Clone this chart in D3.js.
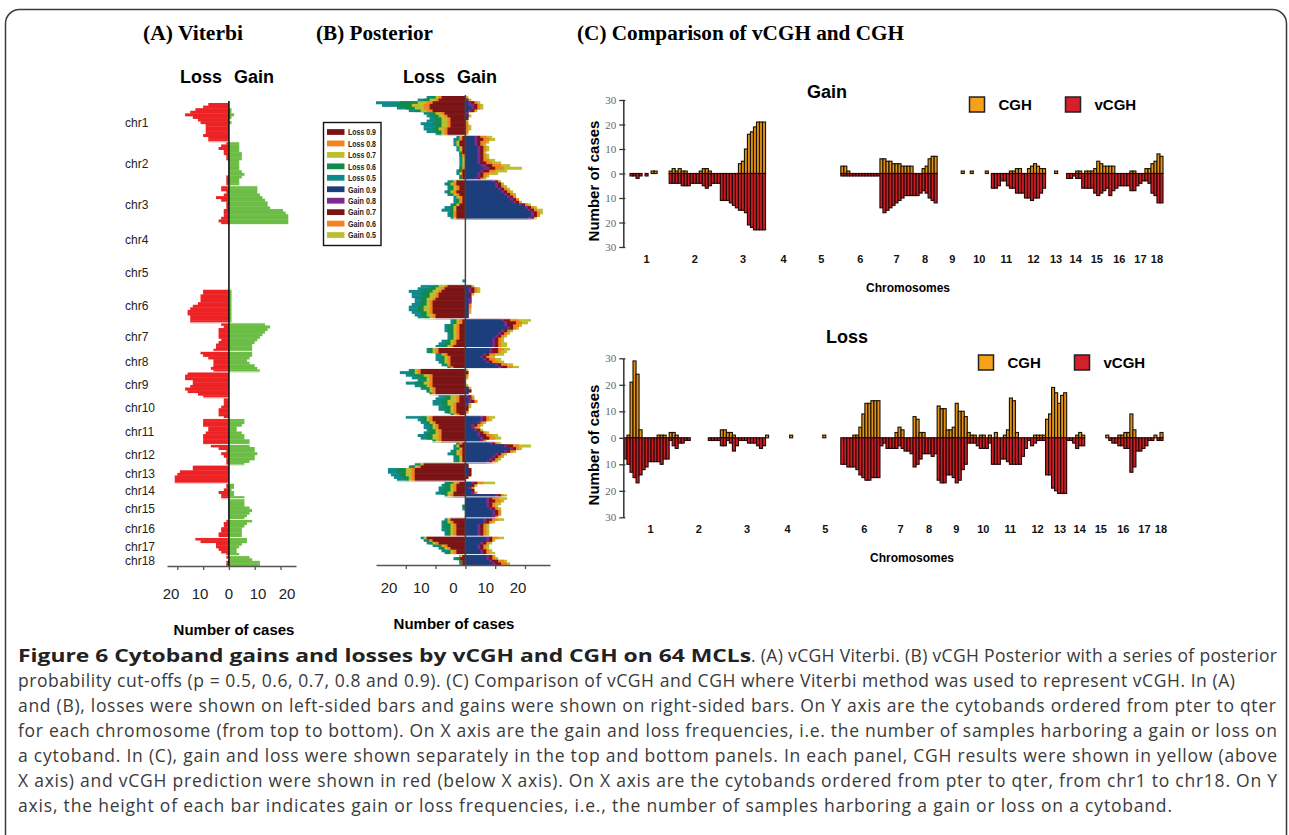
<!DOCTYPE html>
<html>
<head>
<meta charset="utf-8">
<script src="https://cdn.jsdelivr.net/npm/d3@7"></script>
<style>
  body { margin: 0; background: #fff; }
  svg { display: block; }
</style>
</head>
<body>
<svg></svg>
<script>
// cytobands per chromosome, ordered pter -> qter
const chromosomes = "chr1,chr2,chr3,chr4,chr5,chr6,chr7,chr8,chr9,chr10,chr11,chr12,chr13,chr14,chr15,chr16,chr17,chr18".split(",");
const bandCounts = [15, 17, 15, 12, 13, 13, 11, 8, 10, 8, 10, 8, 7, 6, 8, 7, 7, 4];

// vCGH Viterbi (panel A, and red bars of panel C), number of cases per cytoband
const viterbiGain = [
  "0 0 1 1 2 1 0 1 0 0 0 0 0 0 0",
  "4 4 4 4 5 5 5 4 4 4 4 5 6 5 4 4 4",
  "11 11 11 12 13 14 15 15 16 21 22 23 23 23 23",
  "0 0 0 0 0 0 0 0 0 0 0 0",
  "0 0 0 0 0 0 0 0 0 0 0 0 0",
  "1 1 1 1 1 1 1 1 1 1 1 1 1",
  "14 16 15 14 13 12 11 10 9 9 9",
  "9 9 8 7 8 10 11 12",
  "0 0 0 0 0 0 0 0 0 0",
  "0 0 0 0 0 0 0 0",
  "6 6 5 3 3 5 6 6 8 8",
  "8 10 10 11 10 10 8 6",
  "0 0 0 0 0 0 0",
  "2 2 1 2 2 6",
  "6 6 6 8 9 8 7 6",
  "9 7 6 5 5 5 5",
  "7 7 5 4 3 3 4",
  "8 9 12 12"
];
const viterbiLoss = [
  "8 10 13 15 17 14 12 11 9 9 9 9 10 8 8",
  "1 3 4 2 2 1 1 0 0 0 0 0 0 1 1 1 1",
  "3 3 1 2 5 3 1 1 1 2 2 2 3 4 3",
  "0 0 0 0 0 0 0 0 0 0 0 0",
  "0 0 0 0 0 0 0 0 0 0 0 0 0",
  "10 10 11 11 11 12 14 15 16 16 15 15 15",
  "3 2 4 4 4 4 3 4 5 5 6",
  "11 10 8 6 6 6 7 6",
  "16 17 17 14 14 15 17 16 12 10",
  "2 2 2 3 4 4 4 2",
  "10 10 10 8 8 9 10 10 10 10",
  "7 4 1 3 2 1 1 1",
  "14 14 19 20 21 21 21",
  "1 1 2 4 3 3",
  "0 0 0 0 0 0 0 0",
  "1 2 2 3 3 4 4",
  "13 11 5 5 4 3 1",
  "1 0 1 1"
];

// conventional CGH (yellow bars of panel C)
const cghGain = [
  "0 0 0 0 0 0 0 0 0 1 1 0 0 0 0",
  "1 2 1 2 1 1 0 0 0 0 1 2 2 1 0 0 0",
  "0 0 0 0 0 0 4 5 10 16 17 19 21 21 21",
  "0 0 0 0 0 0 0 0 0 0 0 0",
  "0 0 0 0 0 0 0 0 0 0 0 0 0",
  "3 3 1 0 0 0 0 0 0 0 0 0 0",
  "6 6 5 5 4 4 4 3 3 3 3",
  "0 0 0 2 3 6 7 7",
  "0 0 0 0 0 0 0 0 1 0",
  "0 1 0 0 0 0 1 0",
  "0 0 0 0 0 0 1 1 2 2",
  "0 0 2 3 4 3 2 2",
  "0 0 0 1 0 0 0",
  "0 0 0 1 1 0",
  "1 1 1 2 5 4 3 3",
  "3 3 0 0 0 0 0",
  "1 1 0 0 0 2 2",
  "4 5 8 7"
];
const cghLoss = [
  "0 1 21 29 24 3 0 0 0 0 0 1 1 1 0",
  "2 2 1 0 0 0 0 0 0 0 0 0 0 0 0 0 0",
  "3 3 2 2 1 0 0 0 0 0 0 0 0 0 0",
  "1 0 0 0 0 0 0 0 1 0 0 0",
  "0 0 0 0 0 0 0 1 0 0 0 0 0",
  "0 0 0 0 1 1 4 9 13 13 14 14 14",
  "0 0 0 0 0 2 4 3 0 0 0",
  "8 7 2 2 0 0 0 0",
  "12 11 11 3 3 4 13 10 10 8",
  "2 1 1 0 1 1 0 1",
  "0 2 0 0 1 3 15 14 2 0",
  "0 0 0 0 1 1 1 1",
  "7 9 19 17 13 16 17",
  "0 0 0 1 2 1",
  "0 0 0 0 0 0 0 1",
  "0 0 0 1 1 2 2",
  "9 3 0 0 0 0 0",
  "0 1 0 2"
];

// vCGH posterior (panel B): cases with posterior >= cut-off
const postLoss90 = [
  "8 9 11 12 12 11 7 6 5 5 5 5 6 6 6",
  "1 1 2 2 1 1 1 0 0 0 0 0 0 1 1 1 1",
  "3 3 2 2 3 2 1 1 1 2 3 3 3 3 3",
  "0 0 0 0 0 0 0 0 0 0 0 0",
  "0 0 0 0 0 0 0 0 0 0 0 0 0",
  "6 7 8 9 9 10 11 11 11 11 11 10 10",
  "1 1 2 2 2 2 2 2 3 3 4",
  "9 9 6 5 5 5 5 4",
  "15 15 11 11 11 11 11 10 10 10",
  "2 2 2 3 3 3 3 2",
  "11 11 10 9 9 8 8 8 8 8",
  "1 2 1 1 1 1 1 1",
  "14 15 17 17 17 17 17",
  "2 3 3 3 4 4",
  "0 0 0 0 0 0 0 0",
  "5 4 3 3 3 3 3",
  "13 11 9 6 5 3 3",
  "1 2 1 1"
];
const postLoss80 = [
  "9 10 13 14 14 13 8 7 6 6 6 6 7 7 7",
  "1 2 2 2 1 1 1 1 0 0 0 0 1 1 1 1 1",
  "3 4 3 3 4 3 2 2 2 2 3 3 4 4 3",
  "0 0 0 0 0 0 0 0 0 0 0 0",
  "0 0 0 0 0 0 0 0 0 0 0 0 0",
  "7 8 9 10 10 11 12 12 12 12 12 11 11",
  "2 2 3 3 3 3 3 3 4 4 5",
  "10 10 7 6 6 6 6 5",
  "16 16 12 12 12 12 12 11 11 11",
  "3 3 3 4 4 4 4 3",
  "12 12 11 10 10 9 9 9 9 9",
  "2 2 1 2 2 1 1 1",
  "14 16 18 18 18 18 18",
  "3 4 4 4 4 5",
  "0 0 0 0 0 0 0 0",
  "5 5 4 4 4 4 4",
  "13 12 10 7 6 4 4",
  "1 2 1 1"
];
const postLoss70 = [
  "10 12 16 18 17 15 10 9 8 8 8 8 9 8 8",
  "2 2 3 3 2 2 1 1 1 1 1 1 1 1 2 1 1",
  "4 5 4 4 5 4 3 2 2 3 4 4 4 4 4",
  "0 0 0 0 0 0 0 0 0 0 0 0",
  "0 0 0 0 0 0 0 0 0 0 0 0 0",
  "9 10 11 12 12 13 13 13 14 14 13 13 12",
  "3 3 4 4 4 4 4 4 5 5 6",
  "11 11 8 7 7 7 6 5",
  "17 17 14 13 13 14 13 12 12 11",
  "5 5 6 6 5 5 5 4",
  "13 13 12 11 11 10 10 11 11 10",
  "2 3 2 3 3 2 2 2",
  "15 17 20 20 20 19 19",
  "4 5 5 5 6 6",
  "0 0 0 0 0 0 0 0",
  "6 6 5 5 5 5 5",
  "14 12 11 8 7 5 5",
  "2 2 1 1"
];
const postLoss60 = [
  "11 14 22 23 20 17 12 11 10 10 11 10 11 10 9",
  "2 3 3 3 2 2 2 2 1 1 1 1 2 2 2 2 2",
  "5 6 5 5 6 5 3 3 3 4 5 5 5 5 4",
  "0 0 0 0 0 0 0 0 0 0 0 0",
  "0 0 0 0 0 0 0 0 0 0 0 0 0",
  "11 12 14 15 14 15 15 15 16 16 15 15 14",
  "4 4 5 6 6 5 5 5 6 7 8",
  "12 12 9 8 8 8 7 6",
  "18 19 17 15 14 17 15 13 13 12",
  "7 7 8 8 7 7 6 4",
  "15 14 13 12 12 12 12 13 13 11",
  "3 3 3 4 4 3 3 3",
  "16 18 23 23 22 21 20",
  "6 7 7 7 8 6",
  "0 0 0 1 0 0 0 0",
  "6 7 7 7 6 6 6",
  "14 13 12 9 8 6 6",
  "2 3 2 1"
];
const postLoss50 = [
  "13 16 30 28 23 19 14 13 12 13 15 14 14 13 10",
  "3 4 4 4 3 3 2 2 2 2 2 2 2 3 3 2 2",
  "6 7 6 6 7 6 4 4 4 5 7 8 6 6 5",
  "0 0 0 0 0 0 0 0 0 0 0 0",
  "0 0 0 0 0 0 0 0 0 0 0 1 0",
  "15 16 19 18 18 17 17 18 19 19 18 17 16",
  "5 5 7 7 7 6 6 6 8 9 10",
  "13 13 10 10 10 9 8 6",
  "19 22 20 18 16 20 17 15 13 12",
  "9 10 11 11 9 9 7 5",
  "20 16 15 14 14 13 14 16 15 11",
  "3 4 4 5 6 4 4 4",
  "17 19 26 26 25 24 23",
  "7 8 9 9 10 7",
  "0 0 0 1 1 0 0 0",
  "7 8 8 8 8 7 7",
  "15 14 13 11 9 8 7",
  "2 4 2 2"
];
const postGain90 = [
  "0 0 1 1 2 1 0 1 0 0 0 0 0 0 0",
  "3 3 3 3 4 4 4 4 4 4 4 5 6 5 4 4 3",
  "9 10 10 11 12 13 14 15 16 18 20 21 22 22 21",
  "0 0 0 0 0 0 0 0 0 0 0 0",
  "0 0 0 0 0 0 0 0 0 0 0 0 0",
  "1 1 1 1 1 1 1 1 1 1 1 1 1",
  "12 13 13 14 12 11 10 9 9 9 9",
  "8 8 6 5 6 7 10 11",
  "0 0 0 0 0 0 0 1 1 1",
  "0 1 1 0 0 0 0 0",
  "5 5 4 2 2 3 4 4 5 5",
  "8 13 15 13 10 9 8 7",
  "0 1 1 1 1 0 0",
  "2 2 1 2 2 10",
  "7 7 7 7 8 9 9 9",
  "6 6 4 4 4 4 4",
  "7 7 5 4 4 5 5",
  "7 7 8 9"
];
const postGain80 = [
  "0 1 2 3 3 2 1 1 0 0 0 0 0 0 0",
  "4 4 4 4 5 5 5 5 5 5 5 7 8 6 5 5 4",
  "10 11 11 12 13 14 15 16 17 19 21 22 23 23 22",
  "0 0 0 0 0 0 0 0 0 0 0 0",
  "0 0 0 0 0 0 0 0 0 0 0 0 0",
  "1 2 2 1 1 2 2 1 1 1 1 1 1",
  "13 14 14 15 13 12 11 10 10 10 10",
  "9 9 7 6 7 8 11 12",
  "0 0 0 0 0 0 0 1 1 1",
  "1 2 2 1 0 0 0 0",
  "6 6 5 3 3 4 5 5 6 6",
  "9 14 16 14 11 10 9 8",
  "0 1 1 1 1 0 0",
  "3 2 2 2 3 11",
  "8 8 8 8 9 10 10 10",
  "7 7 5 5 5 5 5",
  "8 8 6 5 5 6 6",
  "8 8 9 10"
];
const postGain70 = [
  "0 1 3 4 4 3 1 1 1 0 0 0 0 0 0",
  "5 6 5 5 6 6 6 6 6 6 7 9 10 8 6 6 5",
  "11 12 12 13 14 15 16 17 18 20 22 23 24 24 23",
  "0 0 0 0 0 0 0 0 0 0 0 0",
  "0 0 0 0 0 0 0 0 0 0 0 0 0",
  "2 3 3 2 2 2 2 1 1 1 1 1 1",
  "15 17 16 16 14 13 12 11 11 11 11",
  "11 11 8 7 8 9 12 14",
  "0 1 0 0 0 0 0 1 2 1",
  "2 2 3 1 1 1 0 0",
  "7 7 5 4 3 5 6 7 8 6",
  "10 16 17 15 12 11 10 9",
  "1 1 2 2 2 1 0",
  "4 3 2 3 3 12",
  "9 10 9 9 10 11 11 10",
  "9 8 6 6 6 6 6",
  "9 9 7 6 6 7 7",
  "9 9 11 12"
];
const postGain60 = [
  "0 1 4 5 5 3 1 1 1 0 1 1 1 1 0",
  "7 8 7 6 7 7 6 7 7 8 9 12 13 10 8 7 6",
  "11 12 13 14 15 16 17 18 18 21 23 24 25 25 23",
  "0 0 0 0 0 0 0 0 0 0 0 0",
  "0 0 0 0 0 0 0 0 0 0 0 0 0",
  "2 4 4 2 2 2 2 2 2 1 1 1 1",
  "18 19 18 17 15 14 13 12 12 12 12",
  "13 12 10 8 10 11 14 16",
  "0 1 1 0 0 0 0 1 2 1",
  "2 3 4 1 1 1 1 0",
  "8 8 6 5 4 5 7 9 10 7",
  "11 18 18 16 13 12 11 10",
  "1 1 2 2 2 1 0",
  "6 3 3 3 4 13",
  "11 12 10 10 11 12 12 11",
  "11 9 7 7 7 7 7",
  "11 9 8 7 7 8 8",
  "10 10 13 14"
];
const postGain50 = [
  "1 2 5 6 6 4 1 2 1 1 1 2 2 1 1",
  "9 10 8 7 8 8 7 8 8 10 12 15 19 14 11 8 7",
  "12 13 14 15 16 17 17 18 19 22 24 26 26 25 24",
  "0 0 0 0 0 0 0 0 0 0 0 0",
  "0 0 0 0 0 0 0 0 0 0 0 0 0",
  "3 5 5 3 2 2 2 2 2 2 2 1 1",
  "22 21 19 18 16 15 14 13 13 14 14",
  "15 14 13 10 12 13 16 18",
  "1 1 1 1 0 0 1 2 2 1",
  "3 3 4 2 2 1 1 0",
  "10 9 7 6 5 6 8 11 12 7",
  "12 22 19 17 14 13 12 11",
  "1 1 2 2 2 1 0",
  "10 4 3 3 4 14",
  "14 13 12 11 12 12 12 11",
  "13 10 8 8 8 8 8",
  "13 10 9 8 8 9 10",
  "10 11 14 15"
];

const cutoffs = ["0.9", "0.8", "0.7", "0.6", "0.5"];
const caseTicks = [-20, -10, 0, 10, 20];
const countTicks = [-30, -20, -10, 0, 10, 20, 30];

const captionBold = "Figure 6 Cytoband gains and losses by vCGH and CGH on 64 MCLs";
const captionLines = [
  ". (A) vCGH Viterbi. (B) vCGH Posterior with a series of posterior",
  "probability cut-offs (p = 0.5, 0.6, 0.7, 0.8 and 0.9). (C) Comparison of vCGH and CGH where Viterbi method was used to represent vCGH. In (A)",
  "and (B), losses were shown on left-sided bars and gains were shown on right-sided bars. On Y axis are the cytobands ordered from pter to qter",
  "for each chromosome (from top to bottom). On X axis are the gain and loss frequencies, i.e. the number of samples harboring a gain or loss on",
  "a cytoband. In (C), gain and loss were shown separately in the top and bottom panels. In each panel, CGH results were shown in yellow (above",
  "X axis) and vCGH prediction were shown in red (below X axis). On X axis are the cytobands ordered from pter to qter, from chr1 to chr18. On Y",
  "axis, the height of each bar indicates gain or loss frequencies, i.e., the number of samples harboring a gain or loss on a cytoband."
];

// ---- flatten per-chromosome strings into one list of cytobands
const bands = [];
const chrStart = [];
chromosomes.forEach(function (chr, c) {
  chrStart.push(bands.length);
  for (let i = 0; i < bandCounts[c]; i++) bands.push({ c: c, idx: bands.length });
});

function series(rows) {
  const out = [];
  rows.forEach(function (row, c) {
    const v = row.trim().split(/\s+/).map(Number);
    if (v.length !== bandCounts[c]) console.warn("band count mismatch", chromosomes[c]);
    v.forEach(function (d) { out.push(d); });
  });
  return out;
}

const vGain = series(viterbiGain);
const vLoss = series(viterbiLoss);
const cGain = series(cghGain);
const cLoss = series(cghLoss);
const pLoss = [postLoss90, postLoss80, postLoss70, postLoss60, postLoss50].map(series);
const pGain = [postGain90, postGain80, postGain70, postGain60, postGain50].map(series);

const sans = "Liberation Sans, Arial, sans-serif";
const serif = "Liberation Serif, Times New Roman, serif";
const lossColors = ["#7b1416", "#f58220", "#bdbf2f", "#13894a", "#10898a"];
const gainColors = ["#1b3f7c", "#7d2a8c", "#7b1416", "#f58220", "#bdbf2f"];

const width = 1289;
const height = 835;
const svg = d3.select("svg").attr("width", width).attr("height", height);

// figure frame
svg.append("rect")
  .attr("x", 5.5).attr("y", 9.5)
  .attr("width", 1281).attr("height", 860)
  .attr("rx", 14)
  .attr("fill", "none")
  .attr("stroke", "#3a3a3a")
  .attr("stroke-width", 1.5);

// panel titles
[["(A) Viterbi", 143, 100], ["(B) Posterior", 316, 117], ["(C) Comparison of vCGH and CGH", 577, 327]]
  .forEach(function (t) {
    svg.append("text")
      .attr("x", t[1]).attr("y", 40)
      .attr("textLength", t[2])
      .attr("lengthAdjust", "spacingAndGlyphs")
      .style("font-family", serif)
      .style("font-weight", "bold")
      .style("font-size", "20px")
      .text(t[0]);
  });

// ---------- horizontal loss/gain panels (A and B)
function lossGainHeader(xLoss, xGain) {
  svg.append("text").attr("x", xLoss).attr("y", 83)
    .style("font-family", sans).style("font-weight", "bold").style("font-size", "18px").text("Loss");
  svg.append("text").attr("x", xGain).attr("y", 83)
    .style("font-family", sans).style("font-weight", "bold").style("font-size", "18px").text("Gain");
}

function caseAxis(xScale, yPos, labelScale, labelY, titleX, titleY) {
  const axis = svg.append("g")
    .attr("transform", `translate(0, ${yPos})`)
    .call(d3.axisBottom(xScale).tickValues(caseTicks).tickFormat("").tickSize(4).tickSizeOuter(0));
  axis.select(".domain").attr("stroke", "#555").attr("stroke-width", 1.5);
  axis.selectAll(".tick line").attr("stroke", "#555").attr("stroke-width", 1.3);

  svg.selectAll(null)
    .data(caseTicks)
    .enter()
    .append("text")
    .attr("x", function (d) { return labelScale(d); })
    .attr("y", labelY)
    .attr("text-anchor", "middle")
    .style("font-family", sans)
    .style("font-size", "15px")
    .style("fill", "#222")
    .text(function (d) { return Math.abs(d); });

  svg.append("text")
    .attr("x", titleX).attr("y", titleY)
    .attr("text-anchor", "middle")
    .style("font-family", sans).style("font-weight", "bold").style("font-size", "15px")
    .text("Number of cases");
}

function boundaryLines(yScale, x1, x2) {
  svg.append("g")
    .selectAll("line")
    .data(chrStart.slice(1))
    .enter()
    .append("line")
    .attr("x1", x1).attr("x2", x2)
    .attr("y1", function (d) { return yScale(d); })
    .attr("y2", function (d) { return yScale(d); })
    .attr("stroke", "#fff")
    .attr("stroke-width", 0.9);
}

// (A) Viterbi
const xA = d3.scaleLinear().domain([-24, 26]).range([167, 296]);
const yA = d3.scaleBand().domain(d3.range(bands.length)).range([103, 566]);

svg.append("g")
  .selectAll("rect")
  .data(bands.filter(function (b) { return vLoss[b.idx] > 0; }))
  .enter()
  .append("rect")
  .attr("x", function (b) { return xA(-vLoss[b.idx]); })
  .attr("y", function (b) { return yA(b.idx); })
  .attr("width", function (b) { return xA(0) - xA(-vLoss[b.idx]); })
  .attr("height", yA.bandwidth() + 0.4)
  .attr("fill", "#ed2224");

svg.append("g")
  .selectAll("rect")
  .data(bands.filter(function (b) { return vGain[b.idx] > 0; }))
  .enter()
  .append("rect")
  .attr("x", xA(0))
  .attr("y", function (b) { return yA(b.idx); })
  .attr("width", function (b) { return xA(vGain[b.idx]) - xA(0); })
  .attr("height", yA.bandwidth() + 0.4)
  .attr("fill", "#6cbd45");

boundaryLines(yA, 160, 300);

svg.append("line")
  .attr("x1", xA(0)).attr("x2", xA(0))
  .attr("y1", 101).attr("y2", 566)
  .attr("stroke", "#111").attr("stroke-width", 1.6);

svg.selectAll(null)
  .data(chromosomes)
  .enter()
  .append("text")
  .attr("x", 125)
  .attr("y", function (d, c) { return (yA(chrStart[c]) + yA(chrStart[c] + bandCounts[c] - 1) + yA.bandwidth()) / 2; })
  .attr("dy", "0.35em")
  .style("font-family", sans)
  .style("font-size", "12px")
  .style("fill", "#222")
  .text(function (d) { return d; });

lossGainHeader(180, 234);
caseAxis(xA, 566, d3.scaleLinear().domain([-20, 20]).range([171, 287]), 599, 234, 635);

// (B) Posterior, cut-offs drawn from widest (0.5) to narrowest (0.9)
const xB = d3.scaleLinear().domain([-30, 28.4]).range([376, 550]);
const yB = d3.scaleBand().domain(d3.range(bands.length)).range([96, 565]);

for (let k = cutoffs.length - 1; k >= 0; k--) {
  svg.append("g")
    .selectAll("rect")
    .data(bands.filter(function (b) { return pLoss[k][b.idx] > 0; }))
    .enter()
    .append("rect")
    .attr("x", function (b) { return xB(-pLoss[k][b.idx]); })
    .attr("y", function (b) { return yB(b.idx); })
    .attr("width", function (b) { return xB(0) - xB(-pLoss[k][b.idx]); })
    .attr("height", yB.bandwidth() + 0.4)
    .attr("fill", lossColors[k]);

  svg.append("g")
    .selectAll("rect")
    .data(bands.filter(function (b) { return pGain[k][b.idx] > 0; }))
    .enter()
    .append("rect")
    .attr("x", xB(0))
    .attr("y", function (b) { return yB(b.idx); })
    .attr("width", function (b) { return xB(pGain[k][b.idx]) - xB(0); })
    .attr("height", yB.bandwidth() + 0.4)
    .attr("fill", gainColors[k]);
}

boundaryLines(yB, 370, 555);

svg.append("line")
  .attr("x1", xB(0)).attr("x2", xB(0))
  .attr("y1", 95).attr("y2", 565)
  .attr("stroke", "#444").attr("stroke-width", 1.5);

lossGainHeader(403, 457);
caseAxis(xB, 565, d3.scaleLinear().domain([-20, 20]).range([389, 518]), 593, 454, 629);

// legend of panel B
const legendItems = cutoffs.map(function (p, k) { return { label: "Loss " + p, color: lossColors[k] }; })
  .concat(cutoffs.map(function (p, k) { return { label: "Gain " + p, color: gainColors[k] }; }));

const legendB = svg.append("g").attr("transform", "translate(323.5, 122.5)");
legendB.append("rect")
  .attr("width", 57.5).attr("height", 123)
  .attr("fill", "#fff").attr("stroke", "#111").attr("stroke-width", 1.4);
const legendRow = legendB.selectAll("g")
  .data(legendItems)
  .enter()
  .append("g")
  .attr("transform", function (d, i) { return `translate(0, ${9.5 + i * 11.45})`; });
legendRow.append("rect")
  .attr("x", 3.5).attr("y", -2.9)
  .attr("width", 17.5).attr("height", 5.8)
  .attr("fill", function (d) { return d.color; });
legendRow.append("text")
  .attr("x", 24.5).attr("y", 3.3)
  .attr("textLength", 28)
  .attr("lengthAdjust", "spacingAndGlyphs")
  .style("font-family", "Liberation Sans Narrow, " + sans)
  .style("font-weight", "bold")
  .style("font-size", "9.5px")
  .style("fill", "#222")
  .text(function (d) { return d.label; });

// ---------- (C) CGH (above axis) vs vCGH (below axis)
const xC = d3.scaleBand().domain(d3.range(bands.length)).range([624, 1163]);

function comparisonPanel(opts) {
  const y = d3.scaleLinear().domain([-30, 30]).range([opts.bottom, opts.top]);
  const g = svg.append("g");

  g.selectAll(".cgh")
    .data(bands.filter(function (b) { return opts.cgh[b.idx] > 0; }))
    .enter()
    .append("rect")
    .attr("class", "cgh")
    .attr("x", function (b) { return xC(b.idx); })
    .attr("y", function (b) { return y(opts.cgh[b.idx]); })
    .attr("width", xC.bandwidth())
    .attr("height", function (b) { return y(0) - y(opts.cgh[b.idx]); })
    .attr("fill", "#e39417")
    .attr("stroke", "#1e1406")
    .attr("stroke-width", 1.15);

  g.selectAll(".vcgh")
    .data(bands.filter(function (b) { return opts.vcgh[b.idx] > 0; }))
    .enter()
    .append("rect")
    .attr("class", "vcgh")
    .attr("x", function (b) { return xC(b.idx); })
    .attr("y", y(0))
    .attr("width", xC.bandwidth())
    .attr("height", function (b) { return y(-opts.vcgh[b.idx]) - y(0); })
    .attr("fill", "#cc1c24")
    .attr("stroke", "#220808")
    .attr("stroke-width", 1.15);

  const axis = svg.append("g")
    .attr("transform", "translate(623.3, 0)")
    .call(d3.axisLeft(y).tickValues(countTicks).tickFormat(function (d) { return Math.abs(d); })
      .tickSize(4).tickSizeOuter(0).tickPadding(3));
  axis.select(".domain").attr("stroke", "#333").attr("stroke-width", 1.5);
  axis.selectAll(".tick line").attr("x1", 2).attr("stroke", "#333").attr("stroke-width", 1.3);
  axis.selectAll("text")
    .style("font-family", serif).style("font-size", "11px").style("fill", "#666");

  svg.append("text")
    .attr("transform", `translate(599, ${opts.labelY}) rotate(-90)`)
    .attr("text-anchor", "middle")
    .style("font-family", sans).style("font-weight", "bold").style("font-size", "15px")
    .text("Number of cases");

  svg.append("text")
    .attr("x", opts.titleX).attr("y", opts.titleY)
    .attr("text-anchor", "middle")
    .style("font-family", sans).style("font-weight", "bold").style("font-size", "18px")
    .text(opts.title);

  svg.selectAll(null)
    .data(chromosomes)
    .enter()
    .append("text")
    .attr("x", function (d, c) {
      return (xC(chrStart[c]) + xC(chrStart[c] + bandCounts[c] - 1) + xC.bandwidth()) / 2 + opts.chrShift;
    })
    .attr("y", opts.chrY)
    .attr("text-anchor", "middle")
    .style("font-family", sans).style("font-weight", "bold").style("font-size", "11px")
    .style("fill", "#111")
    .text(function (d, c) { return c + 1; });

  svg.append("text")
    .attr("x", opts.axisTitleX).attr("y", opts.chrY + 29)
    .attr("text-anchor", "middle")
    .style("font-family", sans).style("font-weight", "bold").style("font-size", "12px")
    .text("Chromosomes");

  const legend = svg.append("g").attr("transform", `translate(${opts.legendX}, ${opts.legendY})`);
  [["CGH", "#f7a11b", 0], ["vCGH", "#d4202a", 96]].forEach(function (l) {
    legend.append("rect")
      .attr("x", l[2]).attr("y", 0)
      .attr("width", 15).attr("height", 15)
      .attr("fill", l[1]).attr("stroke", "#222").attr("stroke-width", 1.5);
    legend.append("text")
      .attr("x", l[2] + 29).attr("y", 12.5)
      .style("font-family", sans).style("font-weight", "bold").style("font-size", "15px")
      .text(l[0]);
  });
}

comparisonPanel({
  title: "Gain", cgh: cGain, vcgh: vGain,
  top: 100, bottom: 247, labelY: 181,
  titleX: 827, titleY: 98, chrY: 263, chrShift: 0, axisTitleX: 908,
  legendX: 969.5, legendY: 97
});
comparisonPanel({
  title: "Loss", cgh: cLoss, vcgh: vLoss,
  top: 358.3, bottom: 517.3, labelY: 445,
  titleX: 847, titleY: 342.5, chrY: 533, chrShift: 4, axisTitleX: 912,
  legendX: 978.5, legendY: 355
});

// ---------- caption (each line stretched to its printed width)
const caption = svg.append("g")
  .style("font-family", "Open Sans, Noto Sans, sans-serif")
  .style("font-size", "17.5px")
  .style("fill", "#3a3a3a");

// the bold title is set wider than the body text in the original
caption.append("text")
  .attr("x", 18).attr("y", 662)
  .attr("textLength", 733)
  .attr("lengthAdjust", "spacingAndGlyphs")
  .style("font-weight", "bold")
  .style("font-size", "18px")
  .style("fill", "#222")
  .text(captionBold);

const lineStarts = [751, 18, 18, 18, 18, 18, 18];
const lineEnds = [1277, 1235, 1276, 1277, 1277, 1277, 1172];
caption.selectAll(".line")
  .data(captionLines)
  .enter()
  .append("text")
  .attr("class", "line")
  .attr("x", function (d, i) { return lineStarts[i]; })
  .attr("y", function (d, i) { return 662 + i * 25; })
  .attr("textLength", function (d, i) { return lineEnds[i] - lineStarts[i]; })
  .attr("lengthAdjust", "spacing")
  .text(function (d) { return d; });
</script>
</body>
</html>
